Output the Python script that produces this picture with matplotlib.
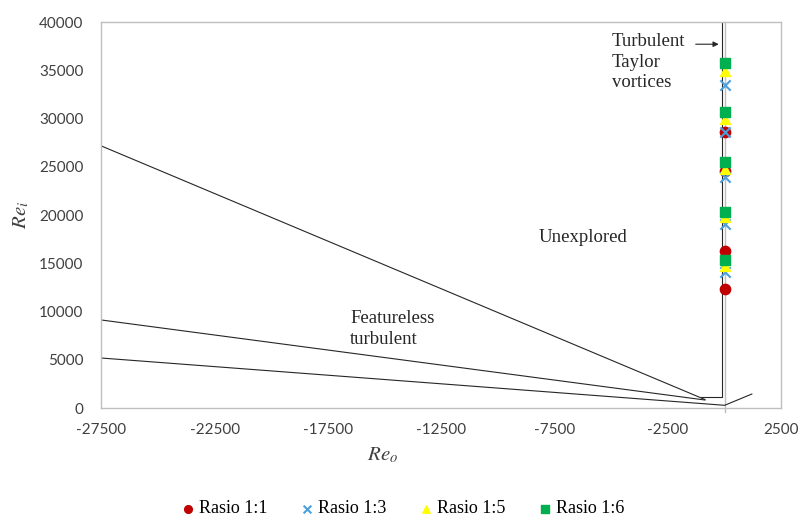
import matplotlib.pyplot as plt

# flow-regime boundaries (Re_o, Re_i)
bound_a_x = [-27500, -870]
bound_a_y = [27150, 880]
bound_b_x = [-27500, -870]
bound_b_y = [9120, 830]
bound_c_x = [-27500, 0, 1200]
bound_c_y = [5180, 280, 1450]
taylor_x = [-1050, -130, -130]
taylor_y = [1170, 1170, 40000]

# measured points, all at Re_o = 0
re_i_11 = [28600, 24600, 16300, 12300]
re_i_13 = [33500, 28600, 23900, 19100, 14100]
re_i_15 = [34900, 29900, 24800, 19800, 14700]
re_i_16 = [35800, 30700, 25500, 20300, 15300]

xticks = list(range(-27500, 2501, 5000))
yticks = list(range(0, 40001, 5000))

serif = "Liberation Serif"
plt.rcParams["font.family"] = serif
plt.rcParams["axes.unicode_minus"] = False

fig = plt.figure(figsize=(8.01, 5.17), dpi=100)
ax = fig.add_axes([0.1267, 0.2108, 0.8487, 0.7466])

line_kw = dict(color="#262626", lw=0.8)
ax.plot(bound_a_x, bound_a_y, **line_kw)
ax.plot(bound_b_x, bound_b_y, **line_kw)
ax.plot(bound_c_x, bound_c_y, **line_kw)
ax.plot(taylor_x, taylor_y, **line_kw)

# vertical axis crossing at Re_o = 0
ax.plot([0, 0], [-400, 40000], color="#bfbfbf", lw=1.0, clip_on=False, zorder=1)

ax.scatter([0] * len(re_i_11), re_i_11, marker="o", s=55, color="#c00000",
           label="Rasio 1:1", zorder=3)
ax.scatter([0] * len(re_i_13), re_i_13, marker="x", s=55, color="#4a9fdc",
           linewidths=1.5, label="Rasio 1:3", zorder=4)
ax.scatter([0] * len(re_i_15), re_i_15, marker="^", s=50, color="#ffff00",
           label="Rasio 1:5", zorder=5)
ax.scatter([0] * len(re_i_16), re_i_16, marker="s", s=55, color="#00b050",
           label="Rasio 1:6", zorder=6)

ax.set_xlim(-27500, 2500)
ax.set_ylim(0, 40000)
ax.set_xticks(xticks)
ax.set_yticks(yticks)
ax.tick_params(length=0, labelsize=11, colors="#404040")
ax.tick_params(axis="y", pad=13)
ax.tick_params(axis="x", pad=11)
for lab in ax.get_xticklabels() + ax.get_yticklabels():
    lab.set_family("Lato")
for sp in ax.spines.values():
    sp.set_color("#bfbfbf")
    sp.set_linewidth(1.0)

txt_kw = dict(fontsize=13.5, color="#262626")
ax.text(-4970, 35850, "Turbulent\nTaylor\nvortices", va="center", ha="left",
        linespacing=1.25, **txt_kw)
ax.annotate("", xy=(-140, 37700), xytext=(-1400, 37700),
            arrowprops=dict(arrowstyle="-|>", color="#262626", lw=0.8,
                            mutation_scale=8))
ax.text(-8190, 17720, "Unexplored", va="center", ha="left", **txt_kw)
ax.text(-16530, 8190, "Featureless\nturbulent", va="center", ha="left",
        linespacing=1.25, **txt_kw)

fig.text(0.027, 0.584, r"$\mathit{Re_i}$", rotation=90, ha="center", va="center",
         fontsize=15, color="#404040", math_fontfamily="stix")
fig.text(0.478, 0.12, r"$\mathit{Re_o}$", ha="center", va="center",
         fontsize=15, color="#404040", math_fontfamily="stix")

fig.legend(loc="lower center", bbox_to_anchor=(0.5, -0.032), ncol=4,
           frameon=False, fontsize=13, handletextpad=0.0, columnspacing=1.6,
           markerscale=0.75, handlelength=1.2)

fig.savefig("out.png", dpi=100)
